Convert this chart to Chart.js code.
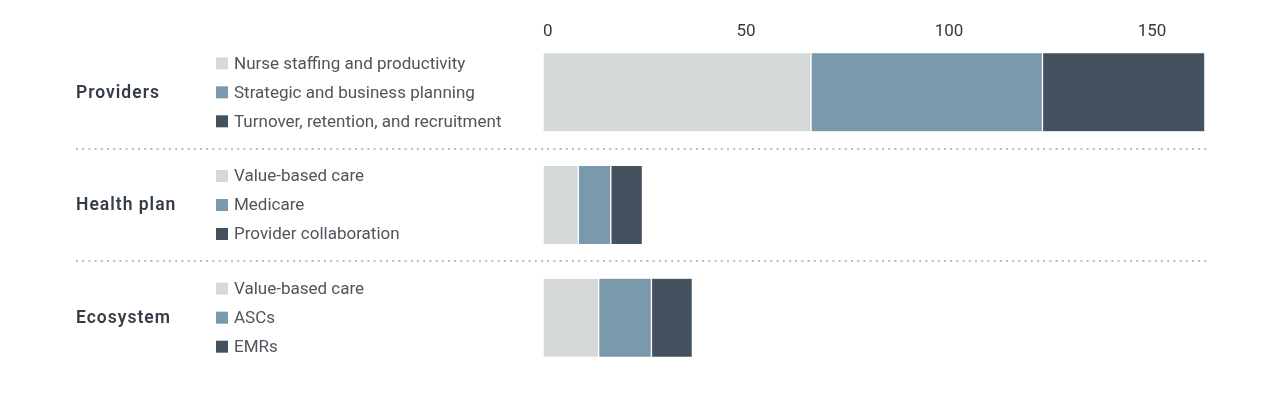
<!DOCTYPE html>
<html>
<head>
<meta charset="utf-8">
<script src="https://cdn.jsdelivr.net/npm/chart.js@4"></script>
<style>
html,body{margin:0;padding:0;background:#fff;}
#wrap{width:1280px;height:394px;position:relative;}
</style>
</head>
<body>
<div id="wrap"><canvas id="c" width="1280" height="394"></canvas></div>
<script>
const categories = ['Providers', 'Health plan', 'Ecosystem'];
const seriesLight = [66, 8.7, 13.7];
const seriesMid = [57, 8, 13];
const seriesDark = [40, 7.8, 10.1];
const itemLabels = [
  ['Nurse staffing and productivity', 'Strategic and business planning', 'Turnover, retention, and recruitment'],
  ['Value-based care', 'Medicare', 'Provider collaboration'],
  ['Value-based care', 'ASCs', 'EMRs']
];
const tickValues = [0, 50, 100, 150];
const colors = ['#d5d9da', '#7a99ad', '#44525f'];

const FONT = 'Roboto, "Liberation Sans", sans-serif';

const sidePlugin = {
  id: 'side',
  afterDraw(chart) {
    const ctx = chart.ctx;
    const y = chart.scales.y;
    ctx.save();
    categories.forEach((cat, i) => {
      const cy = y.getPixelForValue(i);
      ctx.font = '600 17.5px ' + FONT;
      ctx.letterSpacing = '1px';
      ctx.fillStyle = '#343d46';
      ctx.textBaseline = 'middle';
      ctx.textAlign = 'left';
      ctx.fillText(cat, 76, cy + 1);
      ctx.letterSpacing = '0px';
      itemLabels[i].forEach((lab, j) => {
        const ly = cy + (j - 1) * 29;
        ctx.fillStyle = colors[j];
        ctx.fillRect(216, ly - 6, 12, 12);
        ctx.font = '400 17px ' + FONT;
        ctx.fillStyle = '#4e555c';
        ctx.fillText(lab, 234, ly + 1);
      });
      if (i < categories.length - 1) {
        const sy = (cy + y.getPixelForValue(i + 1)) / 2;
        ctx.strokeStyle = '#b8bcc0';
        ctx.lineWidth = 2;
        ctx.setLineDash([2, 4.2]);
        ctx.beginPath();
        ctx.moveTo(76, Math.round(sy));
        ctx.lineTo(1207, Math.round(sy));
        ctx.stroke();
      }
    });
    ctx.restore();
  }
};

const mk = (label, data, c) => ({
  label, data, backgroundColor: c,
  borderColor: '#ffffff', borderWidth: {left: 1, right: 1, top: 0, bottom: 0},
  borderSkipped: false, barThickness: 78
});

const AXIS_MAX = 165;

new Chart(document.getElementById('c'), {
  type: 'bar',
  data: {
    labels: categories,
    datasets: [
      mk('A', seriesLight, colors[0]),
      mk('B', seriesMid, colors[1]),
      mk('C', seriesDark, colors[2])
    ]
  },
  options: {
    indexAxis: 'y',
    responsive: false,
    animation: false,
    layout: {padding: {left: 543, right: 67, top: 0, bottom: 20}},
    plugins: {legend: {display: false}, tooltip: {enabled: false}},
    scales: {
      x: {
        position: 'top', stacked: true, min: 0, max: AXIS_MAX,
        grid: {display: false, drawTicks: false},
        border: {display: false},
        afterBuildTicks: s => { s.ticks = tickValues.concat([AXIS_MAX]).map(v => ({value: v})); },
        afterFit: s => { s.height = 36; },
        ticks: {
          color: '#343a40', font: {family: FONT, size: 17}, padding: -6, maxRotation: 0,
          align: 'inner', autoSkip: false,
          callback: v => tickValues.includes(v) ? String(v) : ''
        }
      },
      y: {
        display: false,
        stacked: true
      }
    }
  },
  plugins: [sidePlugin]
});
</script>
</body>
</html>
